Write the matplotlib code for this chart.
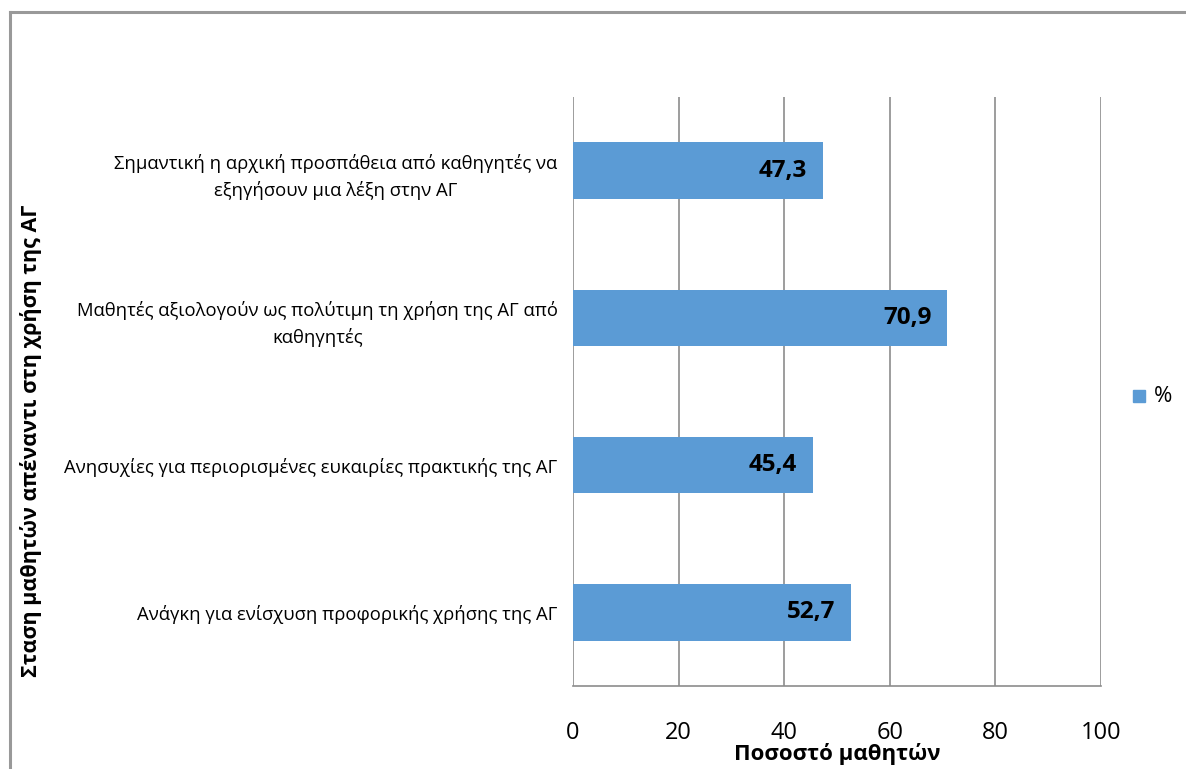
import matplotlib
matplotlib.use("Agg")
import matplotlib.pyplot as plt
from matplotlib.patches import Rectangle
from matplotlib.lines import Line2D

plt.rcParams['font.family'] = ['Open Sans', 'DejaVu Sans']

categories = [
    "Σημαντική η αρχική προσπάθεια από καθηγητές να\nεξηγήσουν μια λέξη στην ΑΓ",
    "Μαθητές αξιολογούν ως πολύτιμη τη χρήση της ΑΓ από\nκαθηγητές",
    "Ανησυχίες για περιορισμένες ευκαιρίες πρακτικής της ΑΓ",
    "Ανάγκη για ενίσχυση προφορικής χρήσης της ΑΓ",
]
values = [47.3, 70.9, 45.4, 52.7]
value_labels = ["47,3", "70,9", "45,4", "52,7"]
x_ticks = [0, 20, 40, 60, 80, 100]
series_name = "%"
x_title = "Ποσοστό μαθητών"
y_title = "Σταση μαθητών απέναντι στη χρήση της ΑΓ"

bar_color = "#5B9BD5"
grid_color = "#8C8C8C"

W, H = 1186, 769
fig = plt.figure(figsize=(W / 100, H / 100), dpi=100)

# outer frame of the chart area
fig.add_artist(Line2D([10 / W, 10 / W], [0, 1 - 12 / H], transform=fig.transFigure,
                      color="#999999", lw=2.2))
fig.add_artist(Line2D([10 / W, 1], [1 - 12 / H, 1 - 12 / H], transform=fig.transFigure,
                      color="#999999", lw=2.2))

ax = fig.add_axes([573 / W, 1 - 686 / H, (1101 - 573) / W, (686 - 97) / H])

positions = list(range(len(categories)))
ax.barh(positions, values, height=0.385, color=bar_color, zorder=3)
ax.set_ylim(len(categories) - 0.5, -0.5)
ax.set_xlim(0, 100)
ax.set_xticks(x_ticks)
ax.set_xticklabels([str(t) for t in x_ticks], fontsize=17)
ax.tick_params(axis='x', length=0, pad=25)
ax.set_yticks(positions)
ax.set_yticklabels(categories, fontsize=13.3, linespacing=1.55)
for lab in ax.get_yticklabels():
    lab.set_multialignment('center')
ax.tick_params(axis='y', length=0, pad=11)

for sp in ['top', 'right', 'left']:
    ax.spines[sp].set_visible(False)
ax.spines['bottom'].set_color(grid_color)
ax.spines['bottom'].set_linewidth(1.2)
ax.xaxis.grid(True, color=grid_color, linewidth=1.2, zorder=0)
ax.set_axisbelow(True)

for p, v, lab in zip(positions, values, value_labels):
    ax.annotate(lab, xy=(v, p), xytext=(-11.5, 0), textcoords='offset points',
                ha='right', va='center', fontsize=17.5, fontweight='bold',
                color='black', zorder=4)

fig.text(837 / W, 1 - 754 / H, x_title, ha='center', va='center',
         fontsize=16, fontweight='bold')
fig.text(31 / W, 1 - 441 / H, y_title, ha='center', va='center',
         rotation=90, fontsize=15.5, fontweight='bold')

# legend
fig.add_artist(Rectangle((1133 / W, 1 - 402 / H), 12 / W, 12 / H,
                         transform=fig.transFigure, color=bar_color))
fig.text(1154 / W, 1 - 396 / H, series_name, ha='left', va='center', fontsize=16)

fig.savefig("out.png", dpi=100)
